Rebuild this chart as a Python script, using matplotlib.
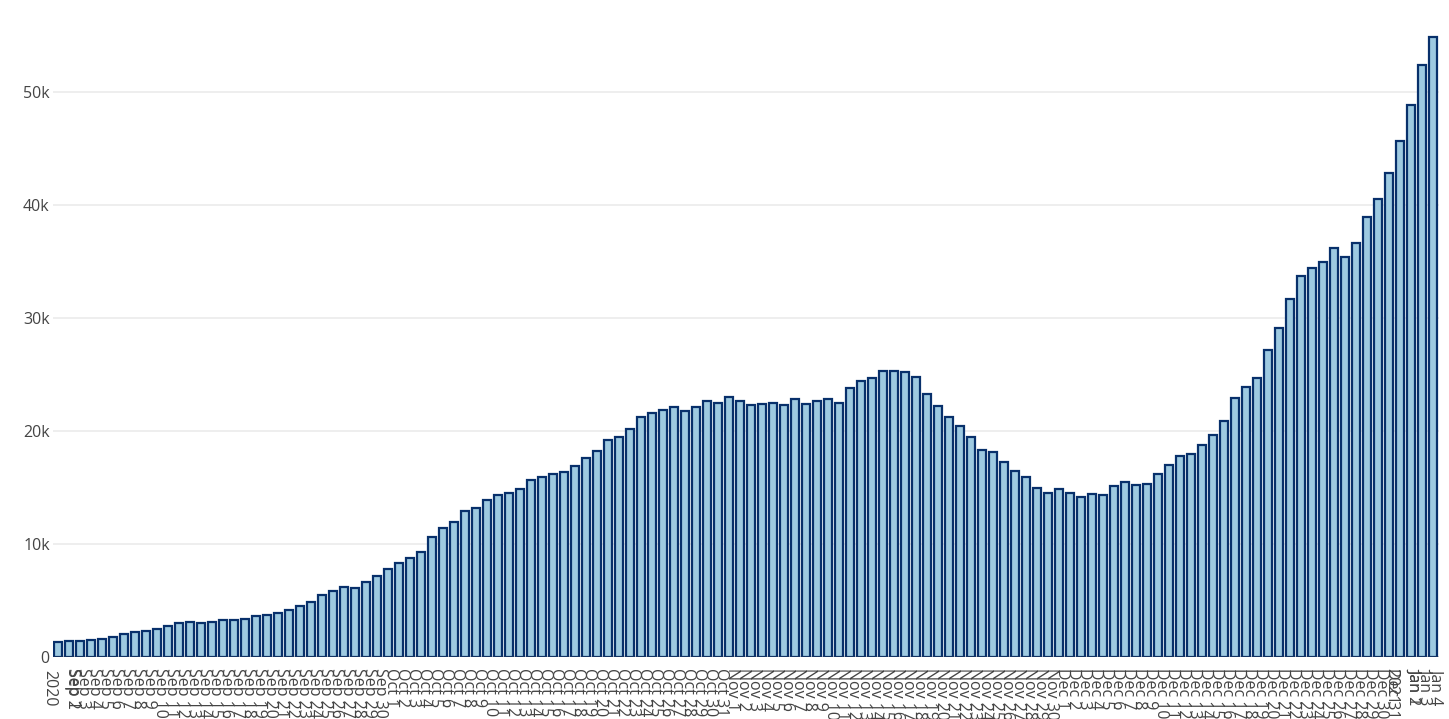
import matplotlib
matplotlib.use("Agg")
import matplotlib.pyplot as plt
import pandas as pd
import numpy as np

# ---- data ----
dates = pd.date_range("2020-09-01", "2021-01-04", freq="D")

sep_values = [1330, 1400, 1400, 1500, 1600, 1800, 2000, 2200, 2300, 2500,
              2700, 3000, 3100, 3000, 3100, 3250, 3300, 3400, 3600, 3700,
              3900, 4200, 4500, 4900, 5500, 5800, 6200, 6100, 6600, 7200]
oct_values = [7800, 8350, 8800, 9300, 10600, 11400, 11950, 12900, 13200, 13900,
              14300, 14500, 14900, 15700, 15900, 16200, 16350, 16900, 17600, 18200,
              19200, 19500, 20200, 21200, 21600, 21900, 22100, 21800, 22100, 22650,
              22450]
nov_values = [23000, 22700, 22300, 22350, 22500, 22300, 22800, 22400, 22700, 22800,
              22500, 23800, 24400, 24700, 25300, 25300, 25200, 24800, 23300, 22200,
              21200, 20400, 19500, 18300, 18100, 17300, 16500, 15900, 15000, 14550]
dec_values = [14870, 14550, 14200, 14400, 14350, 15100, 15450, 15250, 15300, 16200,
              16950, 17800, 17970, 18750, 19650, 20900, 22950, 23900, 24700, 27200,
              29100, 31700, 33750, 34400, 35000, 36200, 35400, 36600, 38900, 40500,
              42800]
jan_values = [45700, 48850, 52400, 54900]

values = sep_values + oct_values + nov_values + dec_values + jan_values

y_ticks = [0, 10000, 20000, 30000, 40000, 50000]
y_tick_labels = ["0", "10k", "20k", "30k", "40k", "50k"]

tick_labels = []
for i, d in enumerate(dates):
    lab = f"{d.strftime('%b')} {d.day}"
    if i == 0 or (d.month == 1 and d.day == 1):
        lab += f"\n{d.year}"
    tick_labels.append(lab)

# ---- figure ----
W, H = 1449, 719
fig = plt.figure(figsize=(W / 100, H / 100), dpi=100)
ax = fig.add_axes([52.5 / W, 62 / H, 1386 / W, 653 / H])

x = np.arange(len(values))
ax.bar(x, values, width=0.8, color="#9ecae1", edgecolor="#08306b",
       linewidth=1.6, zorder=3)

ax.set_xlim(-0.5, len(values) - 0.5)
ax.set_ylim(0, 653 * 88.5)

ax.set_yticks(y_ticks)
ax.set_yticklabels(y_tick_labels)
ax.grid(axis="y", color="#ebebeb", linewidth=1.2, zorder=0)
ax.axhline(0, color="#444444", linewidth=1, zorder=4)

ax.set_xticks(x + 0.3)
ax.set_xticklabels(tick_labels, rotation=-90, ha="center", va="top",
                   linespacing=1.6)

for s in ax.spines.values():
    s.set_visible(False)

ax.tick_params(axis="both", length=0, colors="#444444")
ax.tick_params(axis="y", pad=2)
ax.tick_params(axis="x", pad=8)
for lab in ax.get_xticklabels() + ax.get_yticklabels():
    lab.set_fontfamily("Open Sans")
    lab.set_fontsize(11.5)
    lab.set_color("#444444")

fig.savefig("out.png", dpi=100)
